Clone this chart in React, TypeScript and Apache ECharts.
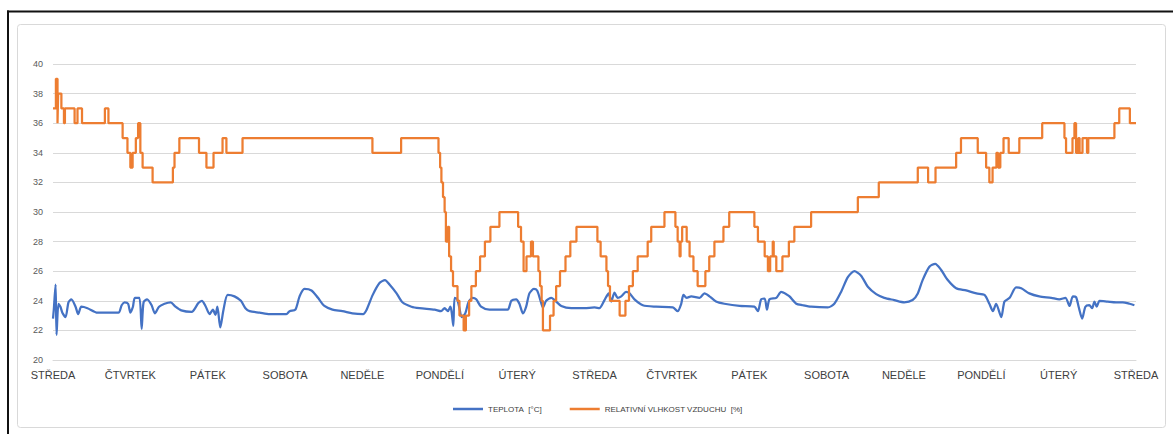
import { useEffect, useRef } from "react";
import * as echarts from "echarts";

// Day names under the daily ticks (one tick every 24 hours, 14 days)
const DAYS = [
  "STŘEDA", "ČTVRTEK", "PÁTEK", "SOBOTA", "NEDĚLE", "PONDĚLÍ", "ÚTERÝ",
  "STŘEDA", "ČTVRTEK", "PÁTEK", "SOBOTA", "NEDĚLE", "PONDĚLÍ", "ÚTERÝ", "STŘEDA",
];
const HOURS_PER_DAY = 24;
const Y_MIN = 20;
const Y_MAX = 40;
const Y_STEP = 2;

const TEMP_NAME = "TEPLOTA\u00a0\u00a0[°C]";
const HUM_NAME = "RELATIVNÍ VLHKOST VZDUCHU\u00a0\u00a0[%]";

// Temperature: [hour since start, °C]
const TEMPERATURE: [number, number][] = [
  [0, 22.8], [0.25, 23.4], [0.8, 25.1], [1.1, 21.7], [1.7, 23.8], [2.3, 23.6], [2.9, 23.2],
  [3.9, 22.9], [4.8, 23.9], [5.7, 24.1], [7.0, 23.6], [7.8, 23.1], [8.8, 23.6], [10.7, 23.5],
  [13.8, 23.2], [20.3, 23.2], [21.3, 23.7], [22.2, 23.9], [23.3, 23.8], [24.0, 23.2],
  [24.8, 23.6], [25.4, 24.2], [26.8, 24.2], [27.5, 22.1], [28.1, 23.9], [29.2, 24.1],
  [30.6, 23.7], [31.6, 23.15], [32.9, 23.6], [34.6, 23.8], [36.5, 23.9], [38.0, 23.6],
  [39.8, 23.35], [43.0, 23.25], [45.1, 23.85], [46.2, 24.0], [47.3, 23.65], [48.6, 23.1],
  [49.6, 23.4], [50.4, 23.05], [51.0, 23.6], [51.9, 22.2], [52.9, 23.4], [54.2, 24.4],
  [56.3, 24.3], [58.3, 24.0], [59.7, 23.5], [61.0, 23.3], [64.1, 23.2], [67.2, 23.1],
  [72.4, 23.1], [73.4, 23.3], [75.2, 23.4], [76.5, 24.3], [78.0, 24.8], [80.2, 24.7],
  [82.2, 24.2], [84.2, 23.65], [86.7, 23.4], [89.8, 23.3], [92.9, 23.15], [96.2, 23.1],
  [97.3, 23.4], [99.2, 24.4], [101.3, 25.2], [103.0, 25.4], [104.4, 25.1], [106.6, 24.5],
  [108.4, 23.9], [111.2, 23.6], [113.7, 23.5], [118.4, 23.4], [120.4, 23.3], [121.5, 23.5],
  [122.5, 23.3], [123.3, 23.6], [123.7, 23.2], [124.2, 22.3], [124.6, 24.2], [125.4, 24.1],
  [126.1, 23.5], [126.8, 22.9], [127.9, 23.15], [128.9, 23.9], [130.2, 24.2], [131.3, 24.1],
  [132.8, 23.6], [135.4, 23.4], [139.0, 23.4], [141.1, 23.4], [142.2, 24.0], [143.7, 24.1],
  [144.7, 23.8], [145.8, 23.15], [146.8, 23.6], [147.8, 24.5], [149.2, 24.8], [150.2, 24.7],
  [151.2, 24.05], [152.0, 23.55], [153.0, 24.0], [154.6, 24.2], [155.6, 24.05], [157.7, 23.65],
  [160.8, 23.5], [164.9, 23.5], [168.0, 23.55], [169.5, 23.5], [171.1, 24.05], [172.4, 24.5],
  [173.2, 23.95], [174.2, 24.55], [175.2, 24.2], [176.3, 24.3], [177.8, 24.6], [178.9, 24.5],
  [180.4, 24.1], [183.0, 23.7], [187.1, 23.6], [192.3, 23.55], [193.8, 23.3], [194.9, 23.8],
  [195.6, 24.4], [196.6, 24.2], [198.0, 24.3], [200.6, 24.2], [202.1, 24.5], [203.7, 24.3],
  [205.7, 23.95], [208.3, 23.8], [213.0, 23.65], [217.6, 23.6], [218.7, 23.3], [219.7, 24.1],
  [220.8, 24.15], [221.5, 23.4], [222.3, 24.1], [224.4, 24.2], [225.9, 24.6], [227.5, 24.45],
  [228.5, 24.3], [230.6, 23.8], [232.6, 23.7], [235.2, 23.6], [240.4, 23.55], [242.4, 23.8],
  [244.5, 24.6], [246.6, 25.6], [248.6, 26.0], [250.7, 25.7], [252.8, 24.95], [255.4, 24.45],
  [257.9, 24.2], [261.0, 24.05], [264.1, 23.9], [266.7, 24.05], [268.3, 24.5], [269.8, 25.4],
  [271.9, 26.3], [273.7, 26.5], [275.5, 26.1], [277.6, 25.4], [280.2, 24.85], [283.3, 24.7],
  [286.5, 24.5], [289.0, 24.4], [290.5, 23.8], [291.6, 23.3], [292.6, 23.8], [294.2, 22.9],
  [295.2, 23.95], [296.8, 24.2], [298.8, 24.9], [300.4, 24.85], [302.9, 24.5], [306.0, 24.3],
  [309.7, 24.2], [312.2, 24.1], [314.1, 24.2], [315.4, 23.65], [316.4, 24.3], [317.4, 24.25],
  [318.2, 23.6], [319.3, 22.8], [320.3, 23.6], [321.5, 23.7], [322.4, 23.5], [323.1, 23.95],
  [323.8, 23.6], [324.7, 24.0], [327.2, 23.95], [329.8, 23.9], [331.9, 23.9], [334.0, 23.8],
  [335.5, 23.7],
];

// Relative humidity: [hour at which the reading changes, %]
const HUMIDITY: [number, number][] = [
  [0, 37], [0.9, 39], [1.4, 36], [1.6, 38], [2.6, 37], [3.4, 36], [3.7, 37], [6.7, 36],
  [7.6, 37], [9.0, 36], [16.1, 37], [17.2, 36], [21.6, 35], [23.1, 34], [24.0, 33], [24.7, 34],
  [25.7, 35], [26.4, 36], [27.1, 34], [27.8, 33], [30.9, 32], [37.2, 33], [37.7, 34], [39.2, 35],
  [45.3, 34], [47.6, 33], [49.8, 34], [52.6, 35], [53.8, 34], [58.8, 35], [99.1, 34], [108.0, 35],
  [119.6, 34], [120.1, 33], [120.5, 32], [121.0, 31], [121.5, 30], [121.9, 28], [122.5, 29],
  [122.9, 27], [123.5, 26], [124.1, 25], [125.5, 24], [126.1, 23], [127.4, 22], [128.1, 23],
  [129.1, 24], [129.8, 25], [131.2, 26], [132.5, 27], [134.0, 28], [135.7, 29], [138.5, 30],
  [144.3, 29], [145.2, 28], [146.0, 26], [146.9, 27], [148.3, 28], [148.9, 27], [150.6, 26],
  [151.1, 25], [151.6, 24], [152.0, 22], [154.2, 23], [155.3, 24], [156.1, 25], [157.3, 26],
  [159.0, 27], [160.5, 28], [162.4, 29], [168.9, 28], [169.9, 27], [171.7, 26], [172.2, 25],
  [172.8, 24], [175.8, 23], [177.6, 24], [178.7, 25], [179.9, 26], [181.4, 27], [184.5, 28],
  [185.6, 29], [189.7, 30], [193.1, 29], [193.8, 28], [194.4, 27], [194.7, 28], [195.2, 29],
  [196.6, 28], [197.5, 27], [198.7, 26], [200.0, 25], [202.4, 26], [203.6, 27], [205.2, 28],
  [208.0, 29], [209.8, 30], [217.6, 29], [218.7, 28], [220.8, 27], [221.8, 26], [222.5, 27],
  [223.3, 28], [223.6, 27], [224.4, 26], [226.3, 27], [228.3, 28], [230.0, 29], [235.2, 30],
  [249.7, 31], [256.2, 32], [268.3, 33], [271.5, 32], [273.8, 33], [280.2, 34], [281.7, 35],
  [286.9, 34], [289.5, 33], [290.5, 32], [291.5, 33], [292.7, 34], [293.2, 33], [293.9, 34],
  [294.9, 35], [296.5, 34], [299.8, 35], [306.9, 36], [313.8, 35], [314.3, 34], [316.3, 35],
  [316.9, 36], [317.4, 34], [318.1, 35], [318.5, 34], [319.4, 35], [320.8, 34], [321.2, 35],
  [329.3, 36], [330.8, 37], [334.1, 36], [336, 36],
];

const TEMP_COLOR = "#4472C4";
const HUM_COLOR = "#ED7D31";
const FONT = "'Liberation Sans', Arial, sans-serif";

export default function App() {
  const ref = useRef<HTMLDivElement>(null);

  useEffect(() => {
    document.body.style.margin = "0";
    if (!ref.current) return;
    const chart = echarts.init(ref.current, null, { renderer: "svg" });
    const totalHours = (DAYS.length - 1) * HOURS_PER_DAY;

    chart.setOption({
      animation: false,
      backgroundColor: "#ffffff",
      textStyle: { fontFamily: FONT },
      graphic: [
        {
          type: "rect",
          silent: true,
          z: -10,
          shape: { x: 17.5, y: 24.5, width: 1148, height: 403, r: 3 },
          style: { fill: "none", stroke: "#d9d9d9", lineWidth: 1 },
        },
        {
          type: "line",
          silent: true,
          shape: { x1: 7, y1: 11.5, x2: 1173, y2: 11.5 },
          style: { stroke: "#111111", lineWidth: 2 },
        },
        {
          type: "line",
          silent: true,
          shape: { x1: 8, y1: 10.5, x2: 8, y2: 434 },
          style: { stroke: "#111111", lineWidth: 2 },
        },
      ],
      grid: { left: 53, right: 37, top: 64, bottom: 74 },
      legend: {
        left: 448,
        top: 400,
        itemWidth: 30,
        itemHeight: 2.5,
        itemGap: 28,
        icon: "rect",
        textStyle: { fontSize: 8, color: "#404040", fontFamily: FONT },
        data: [TEMP_NAME, HUM_NAME],
      },
      xAxis: {
        type: "value",
        min: 0,
        max: totalHours,
        interval: HOURS_PER_DAY,
        axisLine: { show: true, lineStyle: { color: "#d9d9d9", width: 1 } },
        axisTick: { show: false },
        splitLine: { show: false },
        axisLabel: {
          margin: 9,
          fontSize: 11,
          color: "#404040",
          showMinLabel: true,
          showMaxLabel: true,
          formatter: (v: number) => DAYS[Math.round(v / HOURS_PER_DAY)] ?? "",
        },
      },
      yAxis: {
        type: "value",
        min: Y_MIN,
        max: Y_MAX,
        interval: Y_STEP,
        axisLine: { show: false },
        axisTick: { show: false },
        splitLine: { lineStyle: { color: "#d9d9d9", width: 1 } },
        axisLabel: { fontSize: 9, color: "#595959", margin: 10 },
      },
      series: [
        {
          name: TEMP_NAME,
          type: "line",
          data: TEMPERATURE,
          showSymbol: false,
          smooth: 0.25,
          color: TEMP_COLOR,
          lineStyle: { color: TEMP_COLOR, width: 2.25 },
        },
        {
          name: HUM_NAME,
          type: "line",
          data: HUMIDITY,
          step: "end",
          showSymbol: false,
          color: HUM_COLOR,
          lineStyle: { color: HUM_COLOR, width: 2.25 },
        },
      ],
    });

    return () => chart.dispose();
  }, []);

  return <div ref={ref} style={{ width: 1173, height: 434 }} />;
}
